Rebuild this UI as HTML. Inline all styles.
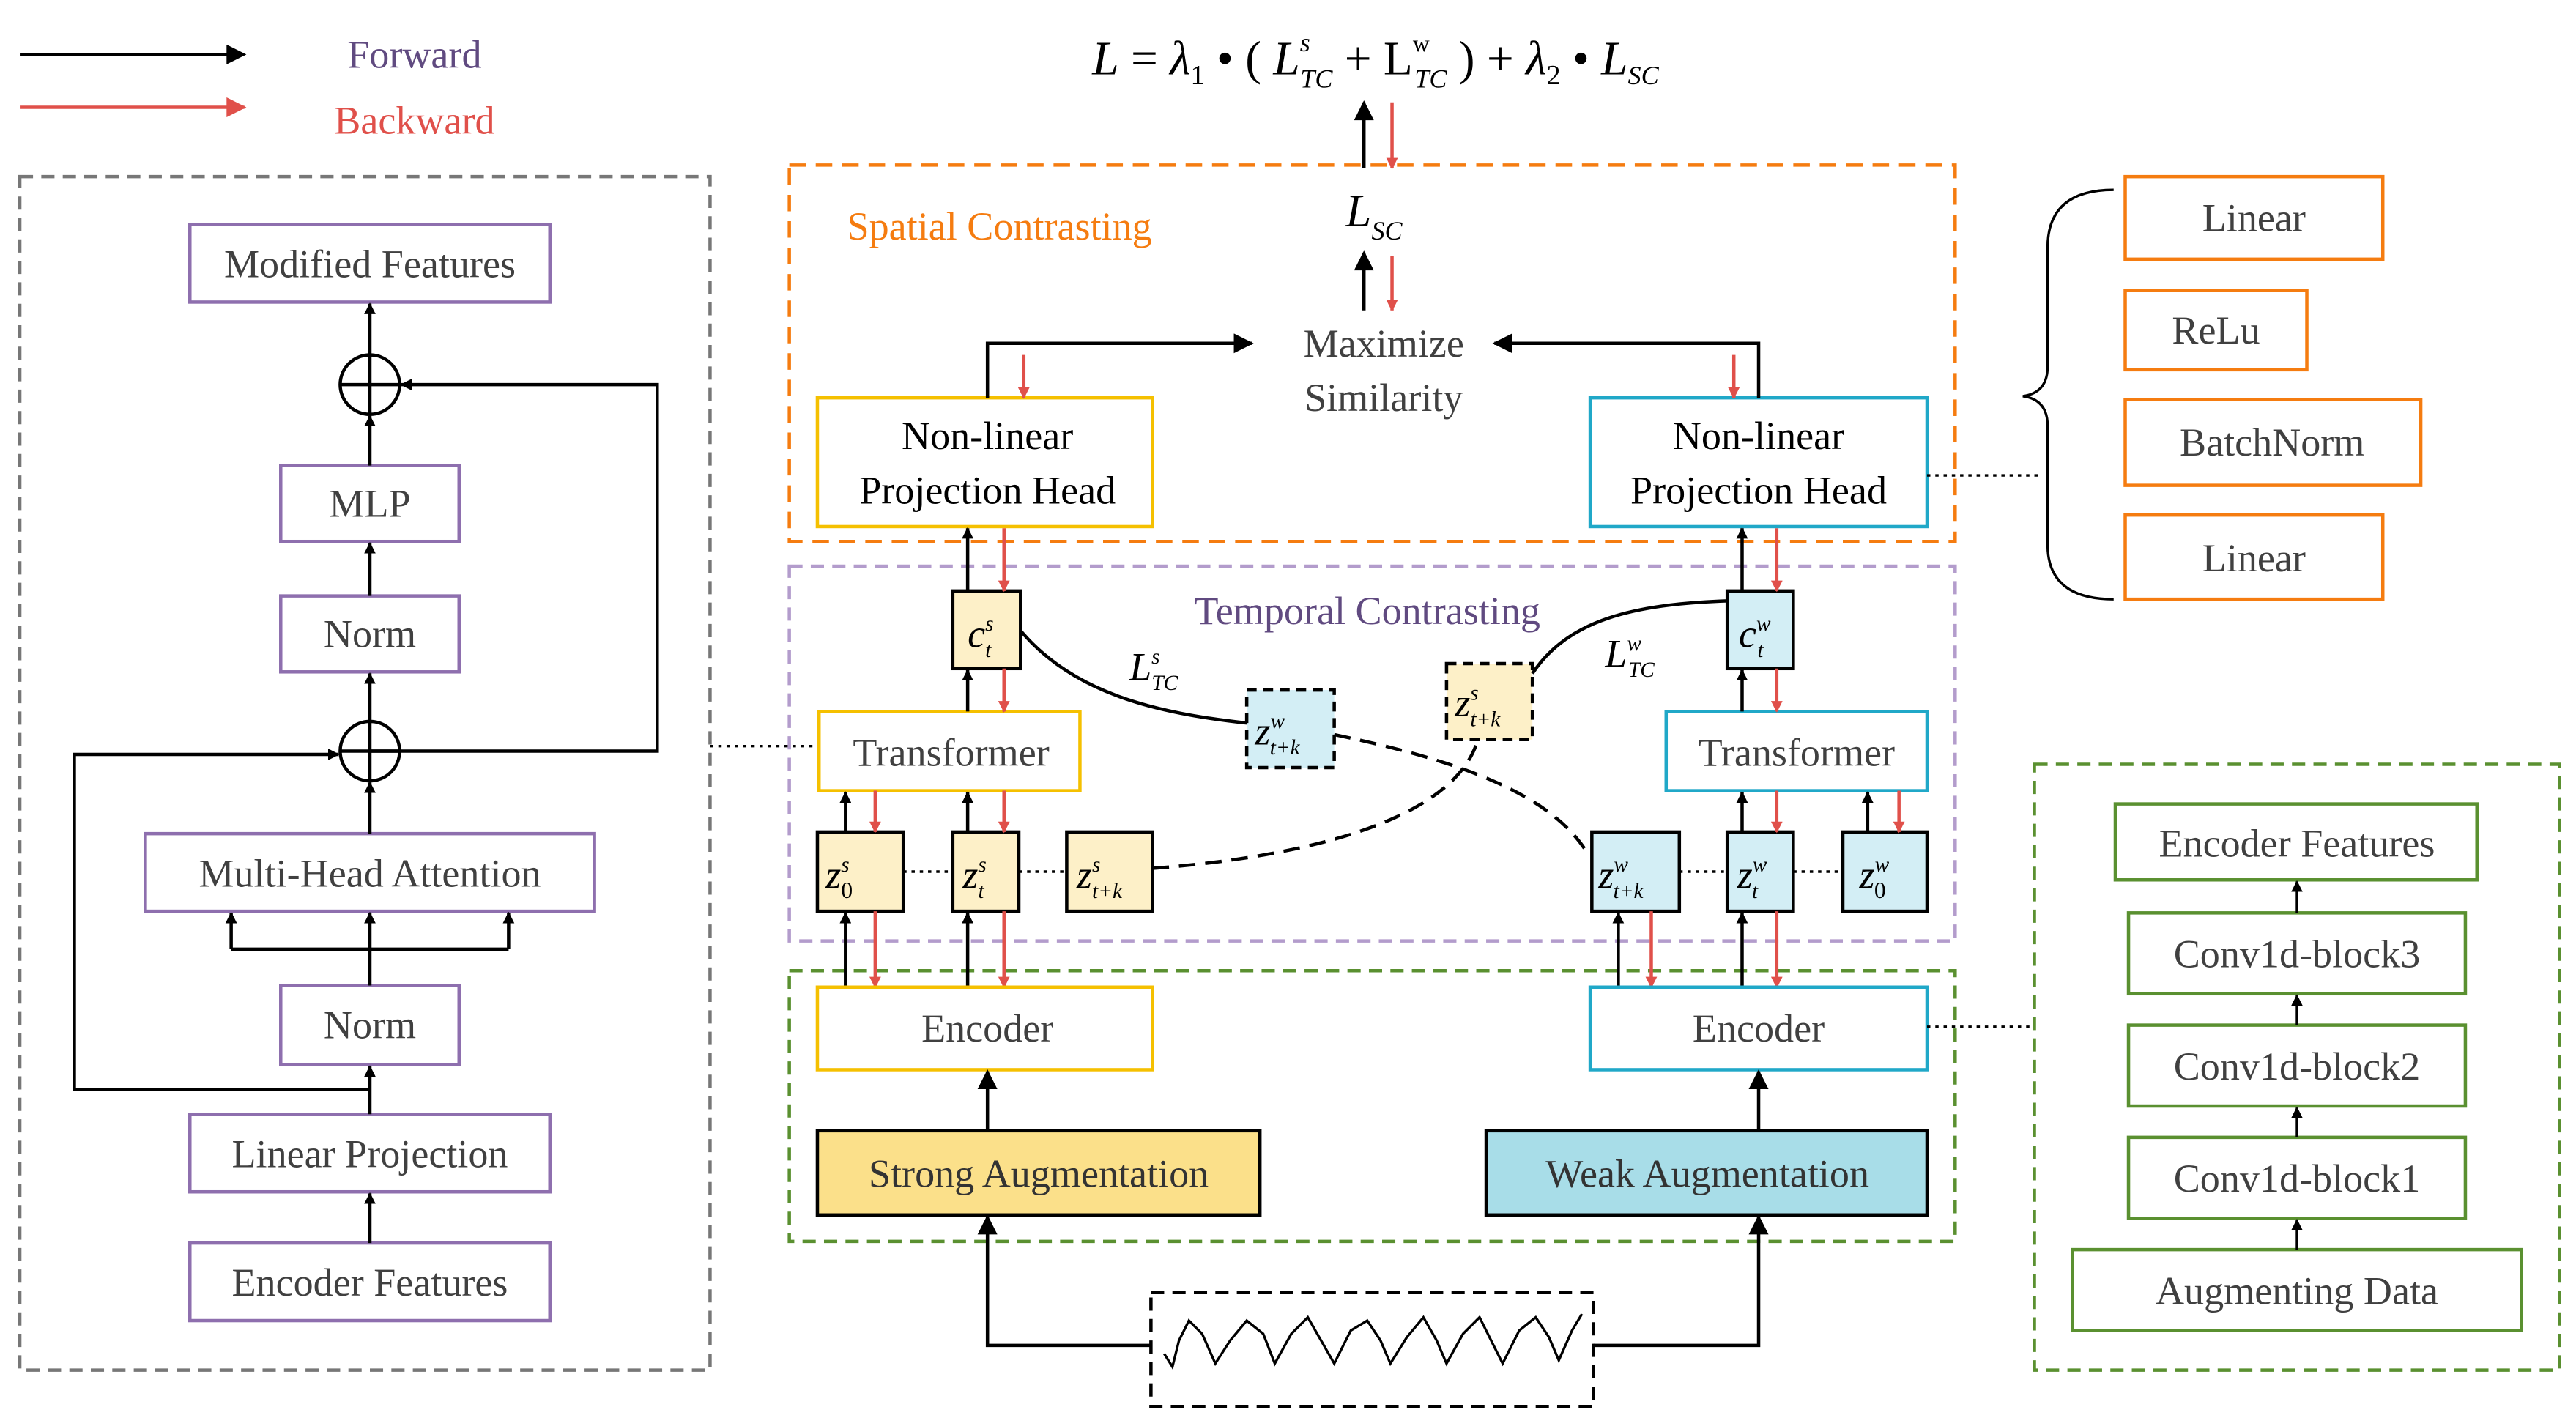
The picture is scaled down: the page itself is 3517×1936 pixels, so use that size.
<!DOCTYPE html>
<html><head><meta charset="utf-8"><style>
html,body{margin:0;padding:0;background:#fff;}
svg{display:block;}
text{font-family:"Liberation Serif",serif;}
.t{font-size:24px;fill:#404040;text-anchor:middle;}
.m{font-style:italic;fill:#000;}
</style></head><body>
<svg width="3517" height="1936" viewBox="0 0 1560 859" preserveAspectRatio="none" xmlns="http://www.w3.org/2000/svg">
<defs>
<marker id="ab" viewBox="0 0 10 10" refX="9" refY="5" markerWidth="7" markerHeight="7" orient="auto" markerUnits="userSpaceOnUse"><path d="M0,0L10,5L0,10z" fill="#000"/></marker>
<marker id="ar" viewBox="0 0 10 10" refX="9" refY="5" markerWidth="7" markerHeight="7" orient="auto" markerUnits="userSpaceOnUse"><path d="M0,0L10,5L0,10z" fill="#e0504a"/></marker>
<marker id="abL" viewBox="0 0 10 10" refX="9" refY="5" markerWidth="14" markerHeight="12" orient="auto" markerUnits="userSpaceOnUse"><path d="M0,0L10,5L0,10z" fill="#000"/></marker>
<marker id="arL" viewBox="0 0 10 10" refX="9" refY="5" markerWidth="14" markerHeight="12" orient="auto" markerUnits="userSpaceOnUse"><path d="M0,0L10,5L0,10z" fill="#e0504a"/></marker>
</defs>
<g stroke-width="2" fill="none">
<!-- legend -->
<line x1="12" y1="33" x2="148" y2="33" stroke="#000" marker-end="url(#abL)"/>
<line x1="12" y1="65" x2="148" y2="65" stroke="#e0504a" marker-end="url(#arL)"/>
<!-- dashed containers -->
<rect x="12" y="107" width="418" height="723" stroke="#777" stroke-dasharray="8,5"/>
<rect x="478" y="100" width="706" height="228" stroke="#f57c10" stroke-dasharray="10,6"/>
<rect x="478" y="343" width="706" height="227" stroke="#b39ccc" stroke-dasharray="8,5"/>
<rect x="478" y="588" width="706" height="164" stroke="#5a9030" stroke-dasharray="8,5"/>
<rect x="1232" y="463" width="318" height="367" stroke="#5a9030" stroke-dasharray="8,5"/>
<rect x="697" y="783" width="268" height="69" stroke="#000" stroke-dasharray="8,5"/>
<!-- left panel boxes -->
<g stroke="#8e6fae">
<rect x="115" y="136" width="218" height="47"/>
<rect x="170" y="282" width="108" height="46"/>
<rect x="170" y="361" width="108" height="46"/>
<rect x="88" y="505" width="272" height="47"/>
<rect x="170" y="597" width="108" height="48"/>
<rect x="115" y="675" width="218" height="47"/>
<rect x="115" y="753" width="218" height="47"/>
</g>
<g stroke="#000">
<circle cx="224" cy="233" r="18"/><line x1="206" y1="233" x2="242" y2="233"/><line x1="224" y1="215" x2="224" y2="251"/>
<circle cx="224" cy="455" r="18"/><line x1="206" y1="455" x2="242" y2="455"/><line x1="224" y1="437" x2="224" y2="473"/>
<line x1="224" y1="753" x2="224" y2="723" marker-end="url(#ab)"/>
<line x1="224" y1="675" x2="224" y2="646" marker-end="url(#ab)"/>
<line x1="224" y1="597" x2="224" y2="553" marker-end="url(#ab)"/>
<polyline points="140,575 308,575"/>
<line x1="140" y1="575" x2="140" y2="553" marker-end="url(#ab)"/>
<line x1="308" y1="575" x2="308" y2="553" marker-end="url(#ab)"/>
<line x1="224" y1="505" x2="224" y2="474" marker-end="url(#ab)"/>
<line x1="224" y1="437" x2="224" y2="408" marker-end="url(#ab)"/>
<line x1="224" y1="361" x2="224" y2="329" marker-end="url(#ab)"/>
<line x1="224" y1="282" x2="224" y2="252" marker-end="url(#ab)"/>
<line x1="224" y1="215" x2="224" y2="184" marker-end="url(#ab)"/>
<polyline points="224,660 45,660 45,457 205,457" marker-end="url(#ab)"/>
<polyline points="224,455 398,455 398,233 243,233" marker-end="url(#ab)"/>
</g>
<line x1="430" y1="452" x2="495" y2="452" stroke="#000" stroke-width="1.5" stroke-dasharray="2,3"/>
<!-- top arrows -->
<line x1="826" y1="102" x2="826" y2="62" stroke="#000" marker-end="url(#abL)"/>
<line x1="843" y1="62" x2="843" y2="102" stroke="#e0504a" marker-end="url(#ar)"/>
<line x1="826" y1="188" x2="826" y2="153" stroke="#000" marker-end="url(#abL)"/>
<line x1="843" y1="155" x2="843" y2="188" stroke="#e0504a" marker-end="url(#ar)"/>
<!-- projection heads -->
<rect x="495" y="241" width="203" height="78" stroke="#f5c000"/>
<rect x="963" y="241" width="204" height="78" stroke="#20a8c8"/>
<polyline points="598,241 598,208 758,208" stroke="#000" marker-end="url(#abL)"/>
<polyline points="1065,241 1065,208 905,208" stroke="#000" marker-end="url(#abL)"/>
<line x1="620" y1="215" x2="620" y2="241" stroke="#e0504a" marker-end="url(#ar)"/>
<line x1="1050" y1="215" x2="1050" y2="241" stroke="#e0504a" marker-end="url(#ar)"/>
<line x1="1167" y1="288" x2="1235" y2="288" stroke="#000" stroke-width="1.5" stroke-dasharray="2,3"/>
<path d="M1280,115 Q1240,115 1240,150 L1240,222 Q1240,238 1225,240 Q1240,242 1240,258 L1240,330 Q1240,363 1280,363" stroke="#000" stroke-width="1.5"/>
<g stroke="#f57c10">
<rect x="1287" y="107" width="156" height="50"/>
<rect x="1287" y="176" width="110" height="48"/>
<rect x="1287" y="242" width="179" height="52"/>
<rect x="1287" y="312" width="156" height="51"/>
</g>
<!-- temporal -->
<rect x="577" y="358" width="41" height="47" fill="#fdf0c8" stroke="#000"/>
<rect x="1046" y="358" width="40" height="47" fill="#d3eef5" stroke="#000"/>
<rect x="496" y="431" width="158" height="48" stroke="#f5c000"/>
<rect x="1009" y="431" width="158" height="48" stroke="#20a8c8"/>
<rect x="495" y="504" width="52" height="48" fill="#fdf0c8" stroke="#000"/>
<rect x="577" y="504" width="40" height="48" fill="#fdf0c8" stroke="#000"/>
<rect x="646" y="504" width="52" height="48" fill="#fdf0c8" stroke="#000"/>
<rect x="964" y="504" width="53" height="48" fill="#d3eef5" stroke="#000"/>
<rect x="1046" y="504" width="40" height="48" fill="#d3eef5" stroke="#000"/>
<rect x="1116" y="504" width="51" height="48" fill="#d3eef5" stroke="#000"/>
<rect x="755" y="418" width="53" height="47" fill="#d3eef5" stroke="#000" stroke-dasharray="6,4"/>
<rect x="876" y="402" width="52" height="46" fill="#fdf0c8" stroke="#000" stroke-dasharray="6,4"/>
<g stroke="#000" stroke-width="1.5" stroke-dasharray="2,3">
<line x1="547" y1="528" x2="577" y2="528"/><line x1="617" y1="528" x2="646" y2="528"/>
<line x1="1017" y1="528" x2="1046" y2="528"/><line x1="1086" y1="528" x2="1116" y2="528"/>
</g>
<path d="M618,382 C650,420 700,432 755,438" stroke="#000"/>
<path d="M1046,364 C990,366 950,375 928,408" stroke="#000"/>
<path d="M808,445 C880,460 940,480 962,518" stroke="#000" stroke-dasharray="10,6"/>
<path d="M698,526 C780,520 880,500 895,448" stroke="#000" stroke-dasharray="10,6"/>
<!-- vertical arrow pairs -->
<g stroke="#000">
<line x1="586" y1="358" x2="586" y2="320" marker-end="url(#ab)"/>
<line x1="586" y1="431" x2="586" y2="406" marker-end="url(#ab)"/>
<line x1="512" y1="504" x2="512" y2="480" marker-end="url(#ab)"/>
<line x1="586" y1="504" x2="586" y2="480" marker-end="url(#ab)"/>
<line x1="512" y1="598" x2="512" y2="553" marker-end="url(#ab)"/>
<line x1="586" y1="598" x2="586" y2="553" marker-end="url(#ab)"/>
<line x1="1055" y1="358" x2="1055" y2="320" marker-end="url(#ab)"/>
<line x1="1055" y1="431" x2="1055" y2="406" marker-end="url(#ab)"/>
<line x1="1055" y1="504" x2="1055" y2="480" marker-end="url(#ab)"/>
<line x1="1131" y1="504" x2="1131" y2="480" marker-end="url(#ab)"/>
<line x1="980" y1="598" x2="980" y2="553" marker-end="url(#ab)"/>
<line x1="1055" y1="598" x2="1055" y2="553" marker-end="url(#ab)"/>
</g>
<g stroke="#e0504a">
<line x1="608" y1="320" x2="608" y2="358" marker-end="url(#ar)"/>
<line x1="608" y1="405" x2="608" y2="431" marker-end="url(#ar)"/>
<line x1="530" y1="479" x2="530" y2="504" marker-end="url(#ar)"/>
<line x1="608" y1="479" x2="608" y2="504" marker-end="url(#ar)"/>
<line x1="530" y1="552" x2="530" y2="598" marker-end="url(#ar)"/>
<line x1="608" y1="552" x2="608" y2="598" marker-end="url(#ar)"/>
<line x1="1076" y1="320" x2="1076" y2="358" marker-end="url(#ar)"/>
<line x1="1076" y1="405" x2="1076" y2="431" marker-end="url(#ar)"/>
<line x1="1076" y1="479" x2="1076" y2="504" marker-end="url(#ar)"/>
<line x1="1150" y1="479" x2="1150" y2="504" marker-end="url(#ar)"/>
<line x1="1000" y1="552" x2="1000" y2="598" marker-end="url(#ar)"/>
<line x1="1076" y1="552" x2="1076" y2="598" marker-end="url(#ar)"/>
</g>
<!-- encoders -->
<rect x="495" y="598" width="203" height="50" stroke="#f5c000"/>
<rect x="963" y="598" width="204" height="50" stroke="#20a8c8"/>
<rect x="495" y="685" width="268" height="51" fill="#fbe08a" stroke="#000"/>
<rect x="900" y="685" width="267" height="51" fill="#a8dde8" stroke="#000"/>
<line x1="598" y1="685" x2="598" y2="649" stroke="#000" marker-end="url(#abL)"/>
<line x1="1065" y1="685" x2="1065" y2="649" stroke="#000" marker-end="url(#abL)"/>
<polyline points="697,815 598,815 598,737" stroke="#000" marker-end="url(#abL)"/>
<polyline points="965,815 1065,815 1065,737" stroke="#000" marker-end="url(#abL)"/>
<path d="M705,820 L710,828 L714,812 L720,800 L728,808 L736,826 L745,812 L755,800 L765,808 L772,826 L782,808 L792,798 L800,812 L808,826 L818,806 L828,800 L836,812 L842,826 L852,810 L862,798 L870,812 L876,826 L886,808 L896,798 L904,814 L910,826 L920,806 L930,798 L938,810 L944,824 L952,806 L958,796" stroke="#000" stroke-width="1.5"/>
<line x1="1167" y1="622" x2="1232" y2="622" stroke="#000" stroke-width="1.5" stroke-dasharray="2,3"/>
<!-- right encoder panel -->
<g stroke="#5a9030">
<rect x="1281" y="487" width="219" height="46"/>
<rect x="1289" y="553" width="204" height="49"/>
<rect x="1289" y="621" width="204" height="49"/>
<rect x="1289" y="689" width="204" height="49"/>
<rect x="1255" y="757" width="272" height="49"/>
</g>
<g stroke="#000" stroke-width="1.5">
<line x1="1391" y1="757" x2="1391" y2="739" marker-end="url(#ab)"/>
<line x1="1391" y1="689" x2="1391" y2="671" marker-end="url(#ab)"/>
<line x1="1391" y1="621" x2="1391" y2="603" marker-end="url(#ab)"/>
<line x1="1391" y1="553" x2="1391" y2="534" marker-end="url(#ab)"/>
</g>
</g>
<!-- text -->
<text x="251" y="41" class="t" style="fill:#604a80">Forward</text>
<text x="251" y="81" class="t" style="fill:#e0504a">Backward</text>
<text x="833" y="45" style="font-size:29px;text-anchor:middle"><tspan class="m">L</tspan> = <tspan class="m">λ</tspan><tspan font-size="17" dy="6">1</tspan><tspan dy="-6"> • ( </tspan><tspan class="m">L</tspan><tspan class="m" font-size="16" dy="-14">s</tspan><tspan class="m" font-size="16" dx="-6" dy="22">TC</tspan><tspan dy="-8"> + L</tspan><tspan font-size="14" dy="-14">w</tspan><tspan class="m" font-size="16" dx="-9" dy="22">TC</tspan><tspan dy="-8"> ) + </tspan><tspan class="m">λ</tspan><tspan font-size="17" dy="6">2</tspan><tspan dy="-6"> • </tspan><tspan class="m">L</tspan><tspan class="m" font-size="16" dy="6">SC</tspan></text>
<text x="513" y="145" style="font-size:24px;fill:#f57c10">Spatial Contrasting</text>
<text x="815" y="137" style="font-size:28px"><tspan class="m">L</tspan><tspan class="m" font-size="16" dy="8">SC</tspan></text>
<text x="838" y="216" class="t">Maximize</text>
<text x="838" y="249" class="t">Similarity</text>
<text x="598" y="272" class="t" style="fill:#000">Non-linear</text>
<text x="598" y="305" class="t" style="fill:#000">Projection Head</text>
<text x="1065" y="272" class="t" style="fill:#000">Non-linear</text>
<text x="1065" y="305" class="t" style="fill:#000">Projection Head</text>
<text x="1365" y="140" class="t">Linear</text>
<text x="1342" y="208" class="t">ReLu</text>
<text x="1376" y="276" class="t">BatchNorm</text>
<text x="1365" y="346" class="t">Linear</text>
<text x="828" y="378" class="t" style="fill:#604a80">Temporal Contrasting</text>
<text x="224" y="168" class="t">Modified Features</text>
<text x="224" y="313" class="t">MLP</text>
<text x="224" y="392" class="t">Norm</text>
<text x="224" y="537" class="t">Multi-Head Attention</text>
<text x="224" y="629" class="t">Norm</text>
<text x="224" y="707" class="t">Linear Projection</text>
<text x="224" y="785" class="t">Encoder Features</text>
<text x="576" y="464" class="t">Transformer</text>
<text x="1088" y="464" class="t">Transformer</text>
<text x="598" y="631" class="t">Encoder</text>
<text x="1065" y="631" class="t">Encoder</text>
<text x="629" y="719" class="t" style="fill:#333">Strong Augmentation</text>
<text x="1034" y="719" class="t" style="fill:#333">Weak Augmentation</text>
<text x="1391" y="519" class="t">Encoder Features</text>
<text x="1391" y="586" class="t">Conv1d-block3</text>
<text x="1391" y="654" class="t">Conv1d-block2</text>
<text x="1391" y="722" class="t">Conv1d-block1</text>
<text x="1391" y="790" class="t">Augmenting Data</text>
<g style="font-size:24px">
<text x="586" y="392" class="m">c<tspan font-size="13" dy="-10">s</tspan><tspan font-size="13" dx="-5" dy="16">t</tspan></text>
<text x="1053" y="392" class="m">c<tspan font-size="13" dy="-10">w</tspan><tspan font-size="13" dx="-8" dy="16">t</tspan></text>
<text x="684" y="412" class="m">L<tspan font-size="13" dy="-10">s</tspan><tspan font-size="13" dx="-5" dy="16">TC</tspan></text>
<text x="972" y="404" class="m">L<tspan font-size="13" dy="-10">w</tspan><tspan font-size="13" dx="-8" dy="16">TC</tspan></text>
<text x="500" y="538" class="m">z<tspan font-size="13" dy="-10">s</tspan><tspan font-size="14" dx="-5" dy="16" font-style="normal">0</tspan></text>
<text x="583" y="538" class="m">z<tspan font-size="13" dy="-10">s</tspan><tspan font-size="13" dx="-5" dy="16">t</tspan></text>
<text x="652" y="538" class="m">z<tspan font-size="13" dy="-10">s</tspan><tspan font-size="13" dx="-5" dy="16">t+k</tspan></text>
<text x="968" y="538" class="m">z<tspan font-size="13" dy="-10">w</tspan><tspan font-size="13" dx="-9" dy="16">t+k</tspan></text>
<text x="1052" y="538" class="m">z<tspan font-size="13" dy="-10">w</tspan><tspan font-size="13" dx="-9" dy="16">t</tspan></text>
<text x="1126" y="538" class="m">z<tspan font-size="13" dy="-10">w</tspan><tspan font-size="14" dx="-9" dy="16" font-style="normal">0</tspan></text>
<text x="760" y="451" class="m">z<tspan font-size="13" dy="-10">w</tspan><tspan font-size="13" dx="-9" dy="16">t+k</tspan></text>
<text x="881" y="434" class="m">z<tspan font-size="13" dy="-10">s</tspan><tspan font-size="13" dx="-5" dy="16">t+k</tspan></text>
</g>
</svg>
</body></html>
